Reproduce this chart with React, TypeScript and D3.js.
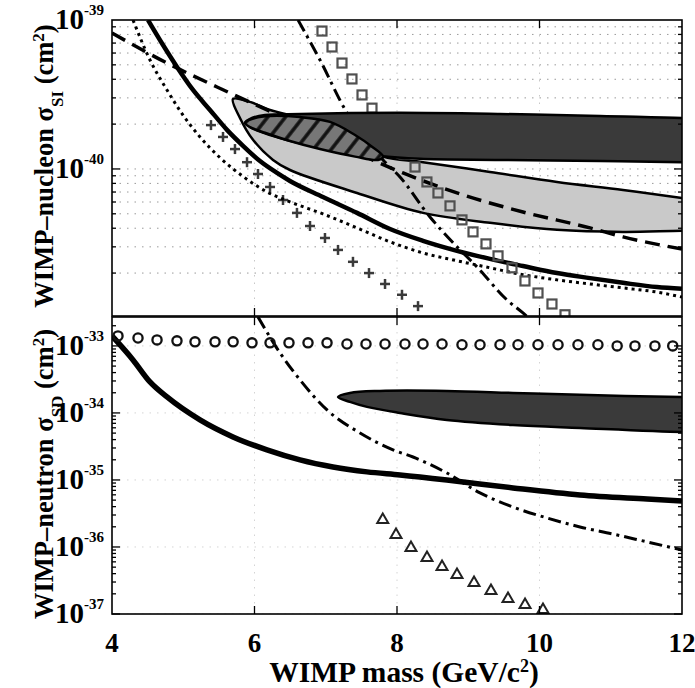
import React from "react";
import * as d3 from "d3";

// ---------- axes / ticks ----------
const massDomain = [4, 12];
const massTicks = [4, 6, 8, 10, 12];
const siDomain = [1.03e-41, 1e-39];
const sdDomain = [1e-37, 2.7e-33];
const siTickExps = [-39, -40];
const sdTickExps = [-33, -34, -35, -36, -37];

// ---------- top panel (spin-independent) ----------
const siThickMass = [4.505, 4.716, 4.912, 5.137, 5.375, 5.614, 5.839, 6.077, 6.316, 6.498, 6.961, 7.439, 7.902, 8.365, 8.842, 9.305, 9.768, 10.246, 10.709, 11.172, 11.649, 12];
const siThickSigma = [1e-39, 6.79e-40, 4.84e-40, 3.39e-40, 2.49e-40, 1.83e-40, 1.43e-40, 1.13e-40, 9.4e-41, 8.3e-41, 6.48e-41, 5.07e-41, 3.95e-41, 3.29e-41, 2.82e-41, 2.49e-41, 2.23e-41, 2.0e-41, 1.85e-41, 1.72e-41, 1.61e-41, 1.57e-41];

const siDottedMass = [4.295, 4.533, 4.772, 4.996, 5.235, 5.516, 5.867, 6.175, 6.498, 6.961, 7.439, 7.902, 8.365, 8.842, 9.305, 9.768, 10.246, 10.709, 11.172, 11.649, 12];
const siDottedSigma = [1e-39, 5.39e-40, 3.39e-40, 2.3e-40, 1.64e-40, 1.19e-40, 8.71e-41, 7.01e-41, 6.01e-41, 4.99e-41, 4.02e-41, 3.24e-41, 2.73e-41, 2.42e-41, 2.17e-41, 1.95e-41, 1.8e-41, 1.69e-41, 1.59e-41, 1.49e-41, 1.38e-41];

const siDashedMass = [4, 4.772, 5.474, 6.175, 6.639, 7.2, 8.084, 8.842, 9.768, 10.709, 11.172, 12];
const siDashedSigma = [8.18e-40, 5.14e-40, 3.55e-40, 2.49e-40, 1.97e-40, 1.45e-40, 9.4e-41, 6.9e-41, 5.14e-41, 4.02e-41, 3.5e-41, 2.9e-41];

const siDashDotMass = [6.611, 6.919, 7.298, 7.621, 7.804, 8.042, 8.463, 8.842, 9.123, 9.544, 9.768, 9.909];
const siDashDotSigma = [1e-39, 5.39e-40, 2.38e-40, 1.45e-40, 1.15e-40, 8.83e-41, 4.76e-41, 3.0e-41, 2.2e-41, 1.32e-41, 1.08e-41, 9.4e-42];

const siSquareMass = [6.947, 7.088, 7.228, 7.368, 7.509, 7.649, 7.8, 7.95, 8.1, 8.253, 8.42, 8.575, 8.744, 8.912, 9.067, 9.249, 9.418, 9.614, 9.796, 9.979, 10.175, 10.358];
const siSquareSigma = [8.43e-40, 6.59e-40, 5.14e-40, 4.02e-40, 3.14e-40, 2.56e-40, 2.0e-40, 1.55e-40, 1.26e-40, 1.03e-40, 8.18e-41, 6.9e-41, 5.65e-41, 4.55e-41, 3.78e-41, 3.14e-41, 2.61e-41, 2.17e-41, 1.77e-41, 1.47e-41, 1.24e-41, 1.05e-41];

const siPlusMass = [5.389, 5.558, 5.726, 5.895, 6.049, 6.218, 6.4, 6.596, 6.779, 6.989, 7.172, 7.382, 7.607, 7.832, 8.07, 8.295];
const siPlusSigma = [1.97e-40, 1.64e-40, 1.36e-40, 1.11e-40, 9.25e-41, 7.57e-41, 6.19e-41, 5.07e-41, 4.14e-41, 3.44e-41, 2.86e-41, 2.38e-41, 2.0e-41, 1.69e-41, 1.43e-41, 1.2e-41];

const siLightMass = [5.698, 5.937, 6.218, 6.428, 6.919, 7.34, 7.804, 8.365, 9.305, 10.246, 11.172, 12, 12.533, 12.533, 12, 11.172, 10.246, 9.305, 8.365, 7.439, 6.498, 6.26, 5.979, 5.796];
const siLightSigma = [2.95e-40, 2.82e-40, 2.49e-40, 2.34e-40, 1.97e-40, 1.57e-40, 1.21e-40, 1.11e-40, 9.55e-41, 8.18e-41, 7.23e-41, 6.38e-41, 5.82e-41, 3.84e-41, 3.84e-41, 3.78e-41, 3.9e-41, 4.35e-41, 5.07e-41, 6.9e-41, 9.84e-41, 1.15e-40, 1.57e-40, 2.2e-40];

const siDarkMass = [5.867, 5.965, 6.147, 6.639, 8.042, 9.446, 10.849, 12, 12.533, 12.533, 12, 10.849, 9.446, 8.323, 7.761, 7.2, 6.639, 6.218, 5.965];
const siDarkSigma = [2.04e-40, 2.2e-40, 2.3e-40, 2.34e-40, 2.38e-40, 2.34e-40, 2.27e-40, 2.2e-40, 2.2e-40, 1.11e-40, 1.11e-40, 1.13e-40, 1.15e-40, 1.17e-40, 1.22e-40, 1.34e-40, 1.49e-40, 1.69e-40, 1.88e-40];

const siHatchMass = [5.867, 6.007, 6.218, 6.639, 7.06, 7.411, 7.649, 7.804, 7.733, 7.411, 6.919, 6.498, 6.147, 5.937];
const siHatchSigma = [2.04e-40, 2.2e-40, 2.27e-40, 2.23e-40, 2.07e-40, 1.69e-40, 1.41e-40, 1.21e-40, 1.15e-40, 1.21e-40, 1.36e-40, 1.54e-40, 1.75e-40, 1.91e-40];

// ---------- bottom panel (spin-dependent) ----------
const sdThickMass = [4.0, 4.295, 4.533, 4.772, 5.235, 5.698, 6.175, 6.639, 7.102, 7.579, 8.042, 8.7, 9.628, 10.568, 11.51, 12];
const sdThickSigma = [1.41e-33, 6.18e-34, 2.9e-34, 1.73e-34, 7.87e-35, 4.39e-35, 2.81e-35, 1.99e-35, 1.56e-35, 1.32e-35, 1.19e-35, 1.0e-35, 7.6e-36, 5.97e-36, 5.2e-36, 4.86e-36];

const sdDashDotMass = [6.049, 6.358, 6.639, 7.018, 7.481, 7.944, 8.225, 8.7, 9.165, 9.628, 10.105, 10.568, 11.032, 11.51, 12];
const sdDashDotSigma = [2.71e-33, 7.87e-34, 3.11e-34, 1.11e-34, 5.02e-35, 2.81e-35, 2.2e-35, 1.27e-35, 6.4e-36, 3.95e-36, 2.71e-36, 1.99e-36, 1.56e-36, 1.19e-36, 9.02e-37];

const sdCircleMass = [4.084, 4.365, 4.632, 4.912, 5.165, 5.446, 5.7, 5.965, 6.218, 6.484, 6.751, 7.018, 7.298, 7.565, 7.832, 8.112, 8.365, 8.632, 8.912, 9.165, 9.446, 9.698, 9.979, 10.26, 10.54, 10.82, 11.09, 11.34, 11.62, 11.87];
const sdCircleSigma = [1.41e-33, 1.31e-33, 1.23e-33, 1.19e-33, 1.15e-33, 1.15e-33, 1.15e-33, 1.11e-33, 1.11e-33, 1.11e-33, 1.11e-33, 1.11e-33, 1.07e-33, 1.07e-33, 1.07e-33, 1.07e-33, 1.07e-33, 1.07e-33, 1.04e-33, 1.04e-33, 1.04e-33, 1.04e-33, 1.04e-33, 1.04e-33, 1.04e-33, 1.04e-33, 1.0e-33, 1.0e-33, 1.0e-33, 1.0e-33];

const sdTriangleMass = [7.8, 7.986, 8.196, 8.421, 8.632, 8.842, 9.081, 9.319, 9.558, 9.797, 10.049];
const sdTriangleSigma = [2.62e-36, 1.56e-36, 1.0e-36, 7.1e-37, 5.2e-37, 3.95e-37, 3.01e-37, 2.28e-37, 1.73e-37, 1.41e-37, 1.19e-37];

const sdDarkMass = [7.172, 7.34, 7.76, 8.7, 9.628, 10.568, 12, 12.5, 12.5, 12, 10.568, 9.628, 8.7, 8.042, 7.579, 7.34];
const sdDarkSigma = [1.73e-34, 1.99e-34, 2.13e-34, 2.13e-34, 1.99e-34, 1.86e-34, 1.73e-34, 1.73e-34, 5.2e-35, 5.2e-35, 5.97e-35, 6.62e-35, 7.87e-35, 1.0e-34, 1.23e-34, 1.46e-34];

// ---------- layout ----------
const W = 695;
const H = 688;
const X0 = 112;
const X1 = 682;
const TOP = { y0: 20, y1: 316 };
const BOT = { y0: 317, y1: 614 };
const FONT = "'Liberation Serif','Times New Roman',Times,serif";

type P = [number, number];
const zip = (a: number[], b: number[]): P[] => a.map((m, i) => [m, b[i]] as P);

export default function App() {
  const x = d3.scaleLinear().domain(massDomain).range([X0, X1]);
  const ySI = d3.scaleLog().domain(siDomain).range([TOP.y1, TOP.y0]);
  const ySD = d3.scaleLog().domain(sdDomain).range([BOT.y1, BOT.y0]);

  const lineSI = d3.line<P>().x((d) => x(d[0])).y((d) => ySI(d[1])).curve(d3.curveMonotoneX);
  const lineSD = d3.line<P>().x((d) => x(d[0])).y((d) => ySD(d[1])).curve(d3.curveMonotoneX);
  const areaSI = d3.line<P>().x((d) => x(d[0])).y((d) => ySI(d[1])).curve(d3.curveCatmullRomClosed.alpha(0.5));
  const areaSD = d3.line<P>().x((d) => x(d[0])).y((d) => ySD(d[1])).curve(d3.curveCatmullRomClosed.alpha(0.5));

  const siMinor = ySI.ticks();
  const sdMinor = ySD.ticks();

  const axisFrame = (y0: number, y1: number, yScale: any, minor: number[], majors: number[]) => (
    <g>
      <rect x={X0} y={y0} width={X1 - X0} height={y1 - y0} fill="none" stroke="#000" strokeWidth={1.6} />
      {minor.map((v, i) => {
        const isMajor = majors.some((m) => Math.abs(Math.log10(v) - Math.log10(m)) < 1e-6);
        const len = isMajor ? 8 : 4;
        const yy = yScale(v);
        return (
          <g key={i}>
            <line x1={X0} x2={X0 + len} y1={yy} y2={yy} stroke="#000" strokeWidth={1.3} />
            <line x1={X1} x2={X1 - len} y1={yy} y2={yy} stroke="#000" strokeWidth={1.3} />
          </g>
        );
      })}
      {massTicks.slice(1, -1).map((m) => (
        <g key={m}>
          <line x1={x(m)} x2={x(m)} y1={y0} y2={y0 + 8} stroke="#000" strokeWidth={1.3} />
          <line x1={x(m)} x2={x(m)} y1={y1} y2={y1 - 8} stroke="#000" strokeWidth={1.3} />
        </g>
      ))}
    </g>
  );

  const tickLabel = (e: number, yy: number) => (
    <text key={e} x={104} y={yy + 9} textAnchor="end" fontFamily={FONT} fontWeight="bold" fontSize={29} fill="#000">
      10
      <tspan dy={-14} fontSize={15}>
        {"-" + Math.abs(e)}
      </tspan>
    </text>
  );

  return (
    <svg width={W} height={H} style={{ position: "absolute", left: 0, top: 0, background: "#fff" }}>
      <defs>
        <clipPath id="clipTop">
          <rect x={X0} y={TOP.y0} width={X1 - X0} height={TOP.y1 - TOP.y0} />
        </clipPath>
        <clipPath id="clipBot">
          <rect x={X0} y={BOT.y0} width={X1 - X0} height={BOT.y1 - BOT.y0} />
        </clipPath>
        <pattern id="hatch" patternUnits="userSpaceOnUse" width={14} height={14} patternTransform="rotate(38)">
          <rect width={14} height={14} fill="#777" />
          <line x1={3} x2={3} y1={0} y2={14} stroke="#111" strokeWidth={3.5} />
        </pattern>
      </defs>
      <rect width={W} height={H} fill="#fff" />

      {/* ---------------- TOP PANEL ---------------- */}
      <g clipPath="url(#clipTop)">
        {siMinor.map((v, i) => (
          <line key={i} x1={X0} x2={X1} y1={ySI(v)} y2={ySI(v)} stroke="#9a9a9a" strokeWidth={1} strokeDasharray="1.5,6" />
        ))}
        {massTicks.slice(1, -1).map((m) => (
          <line key={m} x1={x(m)} x2={x(m)} y1={TOP.y0} y2={TOP.y1} stroke="#c8c8c8" strokeWidth={1} strokeDasharray="1.5,6" />
        ))}

        <path d={areaSI(zip(siLightMass, siLightSigma)) || ""} fill="#c9c9c9" stroke="#000" strokeWidth={2.5} />

        {zip(siPlusMass, siPlusSigma).map((d, i) => (
          <g key={i} transform={`translate(${x(d[0])},${ySI(d[1])})`} stroke="#3a3a3a" strokeWidth={2.5}>
            <line x1={-5} x2={5} y1={0} y2={0} />
            <line x1={0} x2={0} y1={-5} y2={5} />
          </g>
        ))}

        <path d={lineSI(zip(siDottedMass, siDottedSigma)) || ""} fill="none" stroke="#000" strokeWidth={3} strokeDasharray="3,4" />
        <path d={lineSI(zip(siThickMass, siThickSigma)) || ""} fill="none" stroke="#000" strokeWidth={4.5} />
        <path d={lineSI(zip(siDashedMass, siDashedSigma)) || ""} fill="none" stroke="#000" strokeWidth={3.5} strokeDasharray="15,8" />
        <path d={lineSI(zip(siDashDotMass, siDashDotSigma)) || ""} fill="none" stroke="#000" strokeWidth={3} strokeDasharray="13,5,3,5" />

        {zip(siSquareMass, siSquareSigma).map((d, i) => (
          <rect key={i} x={x(d[0]) - 4.5} y={ySI(d[1]) - 4.5} width={9} height={9} fill="none" stroke="#505050" strokeWidth={2.2} />
        ))}

        <path d={areaSI(zip(siDarkMass, siDarkSigma)) || ""} fill="#3a3a3a" stroke="#000" strokeWidth={2.5} />
        <path d={areaSI(zip(siHatchMass, siHatchSigma)) || ""} fill="url(#hatch)" stroke="#000" strokeWidth={2.5} />
      </g>
      {axisFrame(TOP.y0, TOP.y1, ySI, siMinor, siTickExps.map((e) => Math.pow(10, e)))}
      {siTickExps.map((e) => tickLabel(e, ySI(Math.pow(10, e))))}

      {/* ---------------- BOTTOM PANEL ---------------- */}
      <g clipPath="url(#clipBot)">
        {sdTickExps.map((e) => (
          <line key={e} x1={X0} x2={X1} y1={ySD(Math.pow(10, e))} y2={ySD(Math.pow(10, e))} stroke="#d4d4d4" strokeWidth={1} strokeDasharray="1.5,6" />
        ))}
        {massTicks.slice(1, -1).map((m) => (
          <line key={m} x1={x(m)} x2={x(m)} y1={BOT.y0} y2={BOT.y1} stroke="#d4d4d4" strokeWidth={1} strokeDasharray="1.5,6" />
        ))}

        <path d={areaSD(zip(sdDarkMass, sdDarkSigma)) || ""} fill="#3a3a3a" stroke="#000" strokeWidth={2.5} />

        <path d={lineSD(zip(sdThickMass, sdThickSigma)) || ""} fill="none" stroke="#000" strokeWidth={5.5} />
        <path d={lineSD(zip(sdDashDotMass, sdDashDotSigma)) || ""} fill="none" stroke="#000" strokeWidth={3} strokeDasharray="13,5,3,5" />

        {zip(sdCircleMass, sdCircleSigma).map((d, i) => (
          <circle key={i} cx={x(d[0])} cy={ySD(d[1])} r={4.6} fill="none" stroke="#111" strokeWidth={2.3} />
        ))}
        {zip(sdTriangleMass, sdTriangleSigma).map((d, i) => (
          <path key={i} transform={`translate(${x(d[0])},${ySD(d[1])})`} d="M0,-5.5L5.5,4L-5.5,4Z" fill="none" stroke="#222" strokeWidth={2} />
        ))}
      </g>
      {axisFrame(BOT.y0, BOT.y1, ySD, sdMinor, sdTickExps.map((e) => Math.pow(10, e)))}
      {sdTickExps.map((e) => tickLabel(e, ySD(Math.pow(10, e))))}

      {/* x tick labels */}
      {massTicks.map((m) => (
        <text key={m} x={x(m)} y={652} textAnchor="middle" fontFamily={FONT} fontWeight="bold" fontSize={27} fill="#000">
          {m}
        </text>
      ))}
      <text x={404} y={682} textAnchor="middle" fontFamily={FONT} fontWeight="bold" fontSize={29.5} fill="#000">
        WIMP mass (GeV/c<tspan baselineShift="super" fontSize={18}>2</tspan>)
      </text>

      {/* y labels */}
      <text transform="translate(53,166) rotate(-90)" textAnchor="middle" fontFamily={FONT} fontWeight="bold" fontSize={26.5} fill="#000">
        WIMP–nucleon σ<tspan baselineShift="sub" fontSize={17}>SI</tspan> (cm<tspan baselineShift="super" fontSize={17}>2</tspan>)
      </text>
      <text transform="translate(53,474) rotate(-90)" textAnchor="middle" fontFamily={FONT} fontWeight="bold" fontSize={26.5} fill="#000">
        WIMP–neutron σ<tspan baselineShift="sub" fontSize={17}>SD</tspan> (cm<tspan baselineShift="super" fontSize={17}>2</tspan>)
      </text>
    </svg>
  );
}
